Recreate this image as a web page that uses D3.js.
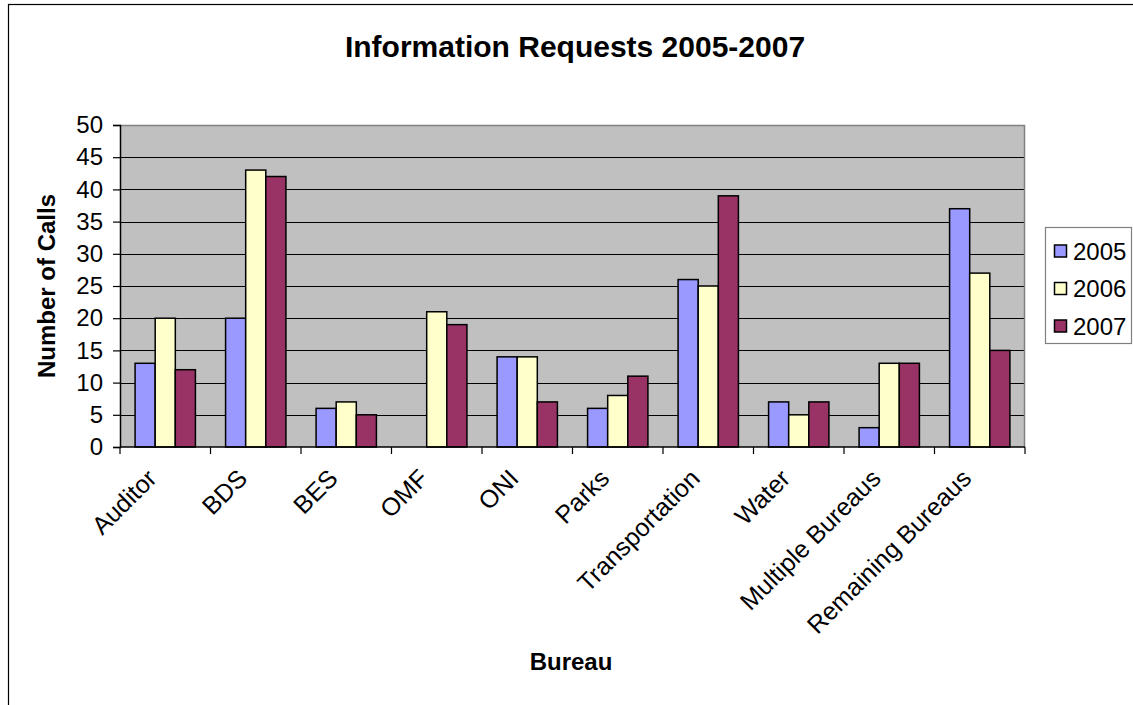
<!DOCTYPE html>
<html>
<head>
<meta charset="utf-8">
<script src="https://cdn.jsdelivr.net/npm/d3@7"></script>
<style>
  html, body { margin: 0; padding: 0; background: #fff; }
  svg { display: block; font-family: Arial, "Liberation Sans", sans-serif; }
</style>
</head>
<body>
<div id="chart"></div>
<script>
// data
const bureaus = ["Auditor", "BDS", "BES", "OMF", "ONI", "Parks", "Transportation", "Water", "Multiple Bureaus", "Remaining Bureaus"];
const years = ["2005", "2006", "2007"];
const calls2005 = [13, 20, 6, null, 14, 6, 26, 7, 3, 37];
const calls2006 = [20, 43, 7, 21, 14, 8, 25, 5, 13, 27];
const calls2007 = [12, 42, 5, 19, 7, 11, 39, 7, 13, 15];
const yTicks = [0, 5, 10, 15, 20, 25, 30, 35, 40, 45, 50];
const yearColors = ["#9999FF", "#FFFFCC", "#993366"];

const width = 1133, height = 705;
const plot = {left: 120, right: 1025, top: 125, bottom: 447};

const series = [calls2005, calls2006, calls2007];
const rows = bureaus.map((b, i) => ({
  bureau: b,
  values: years.map((y, k) => ({year: y, value: series[k][i]}))
}));

const svg = d3.select("#chart").append("svg")
  .attr("width", width)
  .attr("height", height);

// outer chart frame (only top and left show in the window)
svg.append("rect")
  .attr("x", 8.5).attr("y", 4.5)
  .attr("width", 1300).attr("height", 900)
  .attr("fill", "none").attr("stroke", "#000").attr("stroke-width", 1.2);

const x0 = d3.scaleBand()
  .domain(bureaus)
  .range([plot.left, plot.right])
  .paddingInner(1 / 3)
  .paddingOuter(1 / 6);

const x1 = d3.scaleBand()
  .domain(years)
  .range([0, x0.bandwidth()]);

const y = d3.scaleLinear()
  .domain([0, 50])
  .range([plot.bottom, plot.top]);

const color = d3.scaleOrdinal().domain(years).range(yearColors);

// plot background
svg.append("rect")
  .attr("x", plot.left).attr("y", plot.top)
  .attr("width", plot.right - plot.left).attr("height", plot.bottom - plot.top)
  .attr("fill", "#C0C0C0");

// gridlines
svg.append("g")
  .selectAll("line")
  .data(yTicks.filter(t => t > 0 && t < 50))
  .join("line")
  .attr("x1", plot.left).attr("x2", plot.right)
  .attr("y1", d => Math.round(y(d)) + 0.5).attr("y2", d => Math.round(y(d)) + 0.5)
  .attr("stroke", "#000").attr("stroke-width", 1);

// plot border top/right
svg.append("path")
  .attr("d", `M${plot.left},${plot.top + 0.5}H${plot.right - 0.5}V${plot.bottom}`)
  .attr("fill", "none").attr("stroke", "#808080").attr("stroke-width", 1.5);

// bars
const groups = svg.append("g")
  .selectAll("g")
  .data(rows)
  .join("g")
  .attr("transform", d => `translate(${x0(d.bureau)},0)`);

groups.selectAll("rect")
  .data(d => d.values.filter(v => v.value != null))
  .join("rect")
  .attr("x", d => x1(d.year))
  .attr("y", d => y(d.value))
  .attr("width", x1.bandwidth())
  .attr("height", d => y(0) - y(d.value))
  .attr("fill", d => color(d.year))
  .attr("stroke", "#000")
  .attr("stroke-width", 1.5);

// y axis
const yAxis = svg.append("g")
  .attr("transform", `translate(${plot.left},0)`)
  .call(d3.axisLeft(y).tickValues(yTicks).tickSize(7).tickPadding(10));
yAxis.select(".domain").attr("stroke", "#000").attr("stroke-width", 1.5);
yAxis.selectAll(".tick line").attr("stroke", "#000").attr("stroke-width", 1.2);
yAxis.selectAll(".tick text")
  .attr("font-size", 24)
  .attr("font-family", "Arial, 'Liberation Sans', sans-serif")
  .attr("fill", "#000");

// x axis: ticks sit on the category boundaries
const step = x0.step();
const boundaries = bureaus.map(b => x0(b) - (step - x0.bandwidth()) / 2)
  .concat([x0(bureaus[bureaus.length - 1]) + x0.bandwidth() + (step - x0.bandwidth()) / 2]);

const xAxis = svg.append("g");
xAxis.append("line")
  .attr("x1", plot.left).attr("x2", plot.right)
  .attr("y1", plot.bottom).attr("y2", plot.bottom)
  .attr("stroke", "#000").attr("stroke-width", 1.5);
xAxis.selectAll(".xtick")
  .data(boundaries)
  .join("line")
  .attr("class", "xtick")
  .attr("x1", d => d).attr("x2", d => d)
  .attr("y1", plot.bottom).attr("y2", plot.bottom + 7)
  .attr("stroke", "#000").attr("stroke-width", 1.2);

xAxis.selectAll(".xlabel")
  .data(bureaus)
  .join("text")
  .attr("class", "xlabel")
  .attr("transform", d => `translate(${x0(d) + x0.bandwidth() / 2 - 7},${plot.bottom + 33}) rotate(-45)`)
  .attr("text-anchor", "end")
  .attr("font-size", 25)
  .text(d => d);

// titles
svg.append("text")
  .attr("x", 575).attr("y", 57)
  .attr("text-anchor", "middle")
  .attr("font-size", 30)
  .attr("font-weight", "bold")
  .text("Information Requests 2005-2007");

svg.append("text")
  .attr("x", 571).attr("y", 670)
  .attr("text-anchor", "middle")
  .attr("font-size", 24)
  .attr("font-weight", "bold")
  .text("Bureau");

svg.append("text")
  .attr("transform", `translate(55,${(plot.top + plot.bottom) / 2}) rotate(-90)`)
  .attr("text-anchor", "middle")
  .attr("font-size", 24)
  .attr("font-weight", "bold")
  .text("Number of Calls");

// legend
const legend = svg.append("g").attr("transform", "translate(1045,227)");
legend.append("rect")
  .attr("x", 0.5).attr("y", 0.5)
  .attr("width", 86).attr("height", 116)
  .attr("fill", "#fff").attr("stroke", "#808080").attr("stroke-width", 1.2);

const items = legend.selectAll(".item")
  .data(years)
  .join("g")
  .attr("class", "item")
  .attr("transform", (d, i) => `translate(0,${23.5 + i * 37.5})`);

items.append("rect")
  .attr("x", 9.5).attr("y", -5.5)
  .attr("width", 12).attr("height", 12)
  .attr("fill", d => color(d))
  .attr("stroke", "#000").attr("stroke-width", 1.5);

items.append("text")
  .attr("x", 28).attr("y", 9)
  .attr("font-size", 24)
  .text(d => d);
</script>
</body>
</html>
